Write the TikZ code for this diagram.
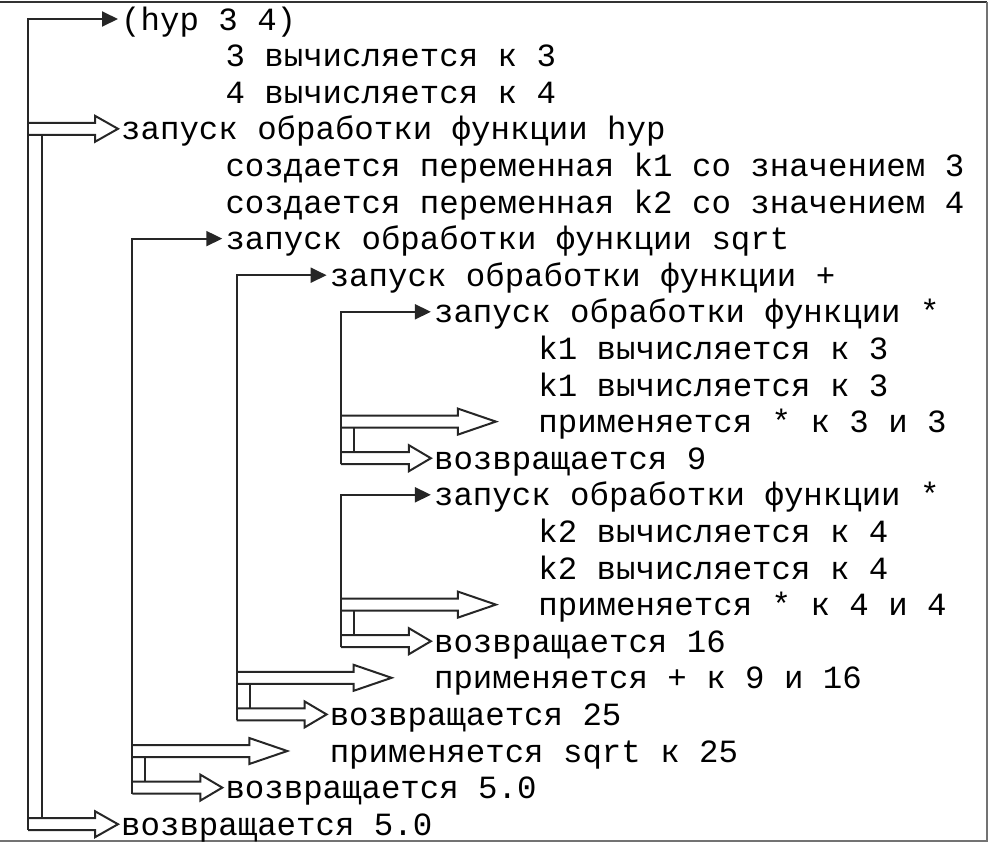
\documentclass[tikz,border=0pt]{standalone}
\usepackage{fontspec}
\setmonofont{Liberation Mono}
\usetikzlibrary{arrows.meta,calc}
\begin{document}
\begin{tikzpicture}[x=1pt,y=-1pt]
\newcommand{\xgap}{104.3}
\newcommand{\ygap}{36.6}
\tikzstyle{txt}=[anchor=west,inner xsep=3pt,inner ysep=0pt,text height=22pt,text depth=0pt,font=\fontsize{32.4}{36}\ttfamily]
\tikzstyle{bar}=[line width=2pt,draw=black!85]
\tikzstyle{callarrow}=[bar,-{Triangle[length=16pt,width=15pt]}]
\tikzstyle{fat}=[bar,line join=miter]
\newcommand{\fatarrow}[3]{\draw[fat] ($(#1)+(0,-6)$) -- ($(#2)+(-#3,-6)$) -- ($(#2)+(-#3,-13)$) -- (#2) -- ($(#2)+(-#3,13)$) -- ($(#2)+(-#3,6)$) -- ($(#1)+(0,6)$);}
\useasboundingbox (0,0) rectangle (990,844);
\draw[line width=2.5pt,black!80] (0,2) -- (987,2);
\draw[line width=2.5pt,black!55] (987,2) -- (987,841) -- (0,841);
\node[txt] (1) at (118+\xgap*0,19+\ygap*0) {(hyp 3 4)};
\node[txt] (2) at (118+\xgap*1,19+\ygap*1) {3 вычисляется к 3};
\node[txt] (3) at (118+\xgap*1,19+\ygap*2) {4 вычисляется к 4};
\node[txt] (4) at (118+\xgap*0,19+\ygap*3) {запуск обработки функции hyp};
\node[txt] (5) at (118+\xgap*1,19+\ygap*4) {создается переменная k1 со значением 3};
\node[txt] (6) at (118+\xgap*1,19+\ygap*5) {создается переменная k2 со значением 4};
\node[txt] (7) at (118+\xgap*1,19+\ygap*6) {запуск обработки функции sqrt};
\node[txt] (8) at (118+\xgap*2,19+\ygap*7) {запуск обработки функции +};
\node[txt] (9) at (118+\xgap*3,19+\ygap*8) {запуск обработки функции *};
\node[txt] (10) at (118+\xgap*4,19+\ygap*9) {k1 вычисляется к 3};
\node[txt] (11) at (118+\xgap*4,19+\ygap*10) {k1 вычисляется к 3};
\node[txt] (12) at (118+\xgap*4,19+\ygap*11) {применяется * к 3 и 3};
\node[txt] (13) at (118+\xgap*3,19+\ygap*12) {возвращается 9};
\node[txt] (14) at (118+\xgap*3,19+\ygap*13) {запуск обработки функции *};
\node[txt] (15) at (118+\xgap*4,19+\ygap*14) {k2 вычисляется к 4};
\node[txt] (16) at (118+\xgap*4,19+\ygap*15) {k2 вычисляется к 4};
\node[txt] (17) at (118+\xgap*4,19+\ygap*16) {применяется * к 4 и 4};
\node[txt] (18) at (118+\xgap*3,19+\ygap*17) {возвращается 16};
\node[txt] (19) at (118+\xgap*3,19+\ygap*18) {применяется + к 9 и 16};
\node[txt] (20) at (118+\xgap*2,19+\ygap*19) {возвращается 25};
\node[txt] (21) at (118+\xgap*2,19+\ygap*20) {применяется sqrt к 25};
\node[txt] (22) at (118+\xgap*1,19+\ygap*21) {возвращается 5.0};
\node[txt] (23) at (118+\xgap*0,19+\ygap*22) {возвращается 5.0};
\coordinate (c0) at (28+\xgap*0,19+\ygap*0);
\coordinate (c1) at (28+\xgap*1,19+\ygap*6);
\coordinate (c2) at (28+\xgap*2,19+\ygap*7);
\coordinate (c3) at (28+\xgap*3,19+\ygap*8);
\coordinate (c4) at (28+\xgap*3,19+\ygap*13);
\coordinate (p1) at ($(c1 |- 21)+(155,0)$);
\coordinate (p2) at ($(c2 |- 19)+(155,0)$);
\coordinate (p3) at ($(c3 |- 12)+(155,0)$);
\coordinate (p4) at ($(c4 |- 17)+(155,0)$);
\draw[callarrow] ($(c0 |- 23)+(0,6)$) -- (c0) -- (1.west);
\draw[callarrow] ($(c1 |- 22)+(0,6)$) -- (c1) -- (7.west);
\draw[callarrow] ($(c2 |- 20)+(0,6)$) -- (c2) -- (8.west);
\draw[callarrow] ($(c3 |- 13)+(0,6)$) -- (c3) -- (9.west);
\draw[callarrow] ($(c4 |- 18)+(0,6)$) -- (c4) -- (14.west);
\draw[bar] ($(c0 |- 4)+(14,6)$) -- ($(c0 |- 23)+(14,-6)$);
\draw[bar] ($(c1 |- 21)+(13,6)$) -- ($(c1 |- 22)+(13,-6)$);
\draw[bar] ($(c2 |- 19)+(13,6)$) -- ($(c2 |- 20)+(13,-6)$);
\draw[bar] ($(c3 |- 12)+(13,6)$) -- ($(c3 |- 13)+(13,-6)$);
\draw[bar] ($(c4 |- 17)+(13,6)$) -- ($(c4 |- 18)+(13,-6)$);
\fatarrow{c0 |- 4}{4.west}{23}
\fatarrow{c0 |- 23}{23.west}{23}
\fatarrow{c1 |- 21}{p1}{38}
\fatarrow{c1 |- 22}{22.west}{22}
\fatarrow{c2 |- 19}{p2}{38}
\fatarrow{c2 |- 20}{20.west}{22}
\fatarrow{c3 |- 12}{p3}{38}
\fatarrow{c3 |- 13}{13.west}{22}
\fatarrow{c4 |- 17}{p4}{38}
\fatarrow{c4 |- 18}{18.west}{22}
\end{tikzpicture}
\end{document}
